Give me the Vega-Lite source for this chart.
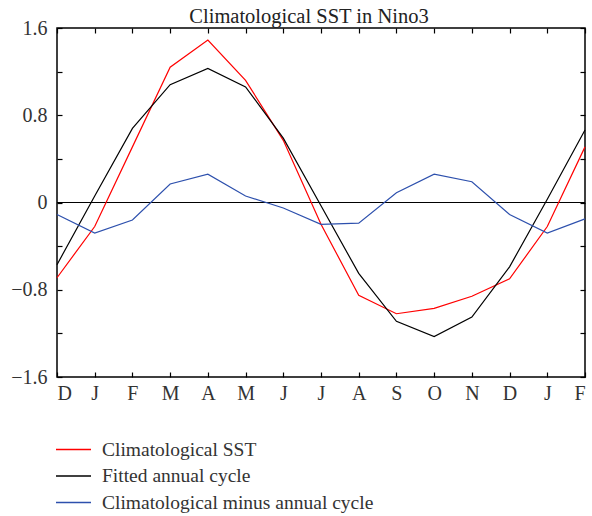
{
  "$schema": "https://vega.github.io/schema/vega-lite/v6.json",
  "autosize": {"type": "none"},
  "width": 528,
  "height": 349,
  "padding": {"left": 57, "top": 28, "right": 7, "bottom": 139},
  "background": "white",
  "title": {"text": "Climatological SST in Nino3", "font": "Liberation Serif", "fontSize": 20.5, "fontWeight": "normal", "color": "#222", "offset": 3, "dy": 12, "dx": -12},
  "config": {
    "view": {"stroke": "black", "strokeWidth": 1.5},
    "axis": {"labelFont": "Liberation Serif", "labelFontSize": 20, "labelColor": "#333", "domain": false, "tickColor": "black", "tickWidth": 1.2, "grid": false, "title": null}
  },
  "data": {"values": [
    {"i":0,"series":"Climatological SST","v":-0.69},
    {"i":1,"series":"Climatological SST","v":-0.22},
    {"i":2,"series":"Climatological SST","v":0.51},
    {"i":3,"series":"Climatological SST","v":1.24},
    {"i":4,"series":"Climatological SST","v":1.49},
    {"i":5,"series":"Climatological SST","v":1.12},
    {"i":6,"series":"Climatological SST","v":0.57},
    {"i":7,"series":"Climatological SST","v":-0.2},
    {"i":8,"series":"Climatological SST","v":-0.85},
    {"i":9,"series":"Climatological SST","v":-1.02},
    {"i":10,"series":"Climatological SST","v":-0.97},
    {"i":11,"series":"Climatological SST","v":-0.86},
    {"i":12,"series":"Climatological SST","v":-0.7},
    {"i":13,"series":"Climatological SST","v":-0.22},
    {"i":14,"series":"Climatological SST","v":0.51},
    {"i":0,"series":"Fitted annual cycle","v":-0.57},
    {"i":1,"series":"Fitted annual cycle","v":0.06},
    {"i":2,"series":"Fitted annual cycle","v":0.68},
    {"i":3,"series":"Fitted annual cycle","v":1.08},
    {"i":4,"series":"Fitted annual cycle","v":1.23},
    {"i":5,"series":"Fitted annual cycle","v":1.06},
    {"i":6,"series":"Fitted annual cycle","v":0.59},
    {"i":7,"series":"Fitted annual cycle","v":-0.03},
    {"i":8,"series":"Fitted annual cycle","v":-0.65},
    {"i":9,"series":"Fitted annual cycle","v":-1.09},
    {"i":10,"series":"Fitted annual cycle","v":-1.23},
    {"i":11,"series":"Fitted annual cycle","v":-1.05},
    {"i":12,"series":"Fitted annual cycle","v":-0.59},
    {"i":13,"series":"Fitted annual cycle","v":0.03},
    {"i":14,"series":"Fitted annual cycle","v":0.665},
    {"i":0,"series":"Climatological minus annual cycle","v":-0.11},
    {"i":1,"series":"Climatological minus annual cycle","v":-0.28},
    {"i":2,"series":"Climatological minus annual cycle","v":-0.16},
    {"i":3,"series":"Climatological minus annual cycle","v":0.17},
    {"i":4,"series":"Climatological minus annual cycle","v":0.26},
    {"i":5,"series":"Climatological minus annual cycle","v":0.06},
    {"i":6,"series":"Climatological minus annual cycle","v":-0.05},
    {"i":7,"series":"Climatological minus annual cycle","v":-0.2},
    {"i":8,"series":"Climatological minus annual cycle","v":-0.19},
    {"i":9,"series":"Climatological minus annual cycle","v":0.09},
    {"i":10,"series":"Climatological minus annual cycle","v":0.26},
    {"i":11,"series":"Climatological minus annual cycle","v":0.19},
    {"i":12,"series":"Climatological minus annual cycle","v":-0.11},
    {"i":13,"series":"Climatological minus annual cycle","v":-0.28},
    {"i":14,"series":"Climatological minus annual cycle","v":-0.15}
  ]},
  "resolve": {"axis": {"x": "independent", "y": "independent"}},
  "layer": [
    {
      "mark": {"type": "rule", "color": "black", "strokeWidth": 1},
      "encoding": {
        "y": {"datum": 0, "type": "quantitative", "scale": {"domain": [-1.6, 1.6], "nice": false},
          "axis": {"orient": "left", "values": [-1.6,-0.8,0,0.8,1.6], "ticks": false, "labelPadding": 10,
            "labelExpr": "datum.value == 0 ? '0' : replace(format(datum.value, '.1f'), '-', '\u2212')"}}
      }
    },
    {
      "mark": {"type": "line", "strokeWidth": 1.2},
      "encoding": {
        "x": {"field": "i", "type": "quantitative", "scale": {"domain": [0, 14], "nice": false},
          "axis": {"orient": "bottom", "values": [0,1,2,3,4,5,6,7,8,9,10,11,12,13,14], "ticks": false, "labelPadding": 6,
            "labelExpr": "['D','J','F','M','A','M','J','J','A','S','O','N','D','J','F'][datum.value]"}},
        "y": {"field": "v", "type": "quantitative", "axis": {"orient": "left", "offset": -5, "tickSize": 5, "values": [-1.6,-1.2,-0.8,-0.4,0,0.4,0.8,1.2,1.6], "labels": false}},
        "color": {"field": "series", "type": "nominal",
          "scale": {"domain": ["Climatological SST", "Fitted annual cycle", "Climatological minus annual cycle"], "range": ["#ff0000", "#000000", "#2d50ad"]},
          "legend": {"title": null, "orient": "none", "legendX": 3, "legendY": 408, "symbolType": "M-1.4,0L1.4,0", "symbolSize": 625, "symbolStrokeWidth": 1.5, "labelFont": "Liberation Serif", "labelFontSize": 19.5, "labelColor": "#333", "labelLimit": 500, "rowPadding": 3.5, "labelOffset": 15}}
      }
    },
    {
      "mark": {"type": "line", "opacity": 0},
      "encoding": {
        "x": {"field": "i", "type": "quantitative", "axis": {"orient": "bottom", "offset": -5, "tickSize": 5, "values": [0,1,2,3,4,5,6,7,8,9,10,11,12,13,14], "labels": false}},
        "y": {"field": "v", "type": "quantitative", "axis": {"orient": "right", "offset": -5, "tickSize": 5, "values": [-1.6,-1.2,-0.8,-0.4,0,0.4,0.8,1.2,1.6], "labels": false}},
        "detail": {"field": "series"}
      }
    },
    {
      "mark": {"type": "line", "opacity": 0},
      "encoding": {
        "x": {"field": "i", "type": "quantitative", "axis": {"orient": "top", "offset": -5, "tickSize": 5, "values": [0,1,2,3,4,5,6,7,8,9,10,11,12,13,14], "labels": false}},
        "y": {"field": "v", "type": "quantitative", "axis": null},
        "detail": {"field": "series"}
      }
    }
  ]
}
